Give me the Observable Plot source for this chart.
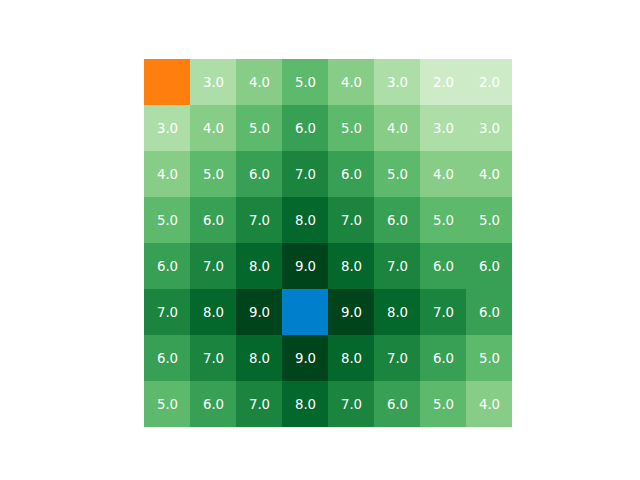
<!DOCTYPE html>
<html>
<head>
<meta charset="utf-8">
<script src="https://cdn.jsdelivr.net/npm/d3@7"></script>
<script src="https://cdn.jsdelivr.net/npm/@observablehq/plot@0.6"></script>
<style>
  html, body { margin: 0; padding: 0; background: #fff; }
  svg { display: block; }
</style>
</head>
<body>
<div id="chart"></div>
<script>
// Grid values (row by row, top to bottom); null = special cell
const values = [
  [null, 3, 4, 5, 4, 3, 2, 2],
  [3, 4, 5, 6, 5, 4, 3, 3],
  [4, 5, 6, 7, 6, 5, 4, 4],
  [5, 6, 7, 8, 7, 6, 5, 5],
  [6, 7, 8, 9, 8, 7, 6, 6],
  [7, 8, 9, null, 9, 8, 7, 6],
  [6, 7, 8, 9, 8, 7, 6, 5],
  [5, 6, 7, 8, 7, 6, 5, 4]
];
const rows = d3.range(8);
const cols = d3.range(8);
const startCell = {row: 0, col: 0};
const goalCell = {row: 5, col: 3};

const cells = [];
values.forEach((r, i) => r.forEach((v, j) => cells.push({row: i, col: j, value: v})));
const valued = cells.filter(d => d.value != null);

const plot = Plot.plot({
  width: 640,
  height: 480,
  marginLeft: 143,
  marginRight: 127,
  marginTop: 58,
  marginBottom: 52,
  x: {type: "band", domain: cols, padding: 0, axis: null},
  y: {type: "band", domain: rows, padding: 0, axis: null},
  color: {type: "linear", scheme: "greens", domain: [0, 9]},
  style: {fontFamily: "DejaVu Sans", background: "white"},
  marks: [
    Plot.cell(valued, {x: "col", y: "row", fill: "value", inset: 0}),
    Plot.cell([startCell], {x: "col", y: "row", fill: "#ff7f0e", inset: 0}),
    Plot.cell([goalCell], {x: "col", y: "row", fill: "#0080cc", inset: 0}),
    Plot.text(valued, {x: "col", y: "row", text: d => d.value.toFixed(1), fill: "white", fontSize: 13.3})
  ]
});
document.getElementById("chart").appendChild(plot);
</script>
</body>
</html>
